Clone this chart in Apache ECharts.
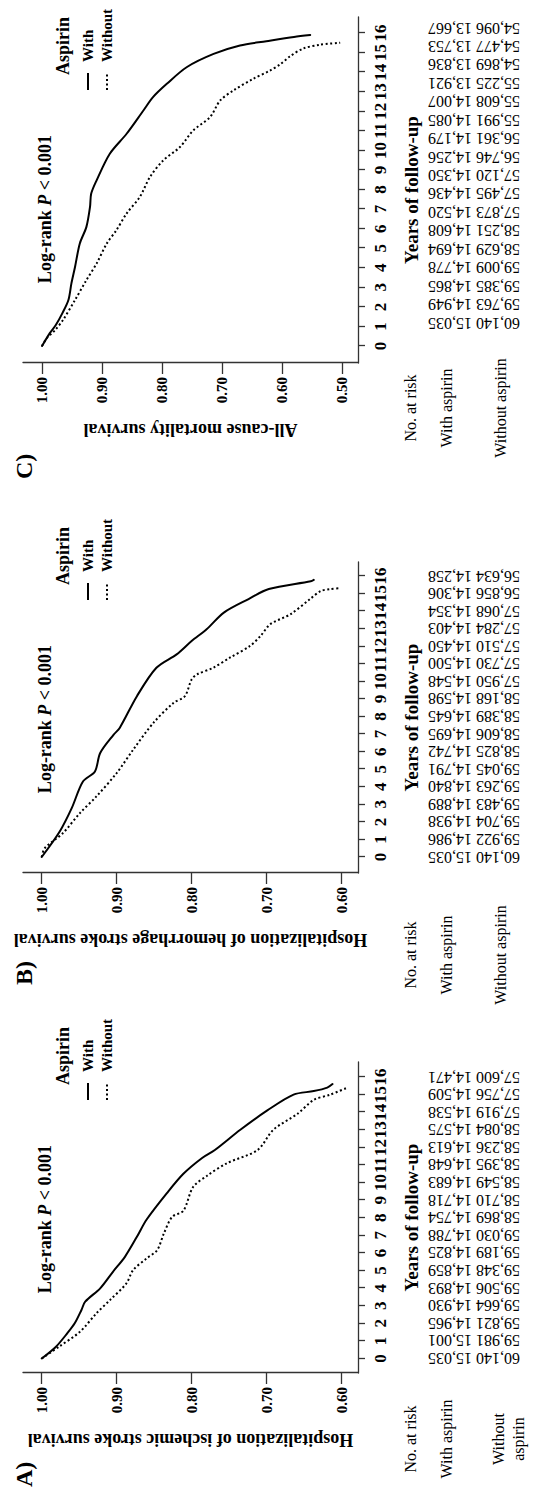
<!DOCTYPE html>
<html>
<head>
<meta charset="utf-8">
<script src="https://cdn.jsdelivr.net/npm/echarts@6/dist/echarts.min.js"></script>
<style>
html,body{margin:0;padding:0;background:#fff;}
#wrap{position:absolute;left:0;top:0;width:537px;height:1493px;overflow:hidden;background:#fff;}
#c{position:absolute;left:0;top:0;width:1493px;height:537px;transform-origin:0 0;transform:translate(0px,1493px) rotate(-90deg);}
</style>
</head>
<body>
<div id="wrap"><div id="c"></div></div>
<script>
// ---------------- data ----------------
const years = [0,1,2,3,4,5,6,7,8,9,10,11,12,13,14,15,16];
const survTicksAB = [0.6,0.7,0.8,0.9,1.0];
const survTicksC = [0.5,0.6,0.7,0.8,0.9,1.0];

// Panel A: ischemic stroke
const aWith = [[0,1.0],[0.67,0.981],[1.43,0.966],[2.0,0.956],[2.76,0.947],[3.23,0.942],[3.99,0.922],[4.93,0.905],[5.78,0.889],[6.92,0.873],[7.9,0.860],[9.4,0.833],[10.5,0.811],[11.4,0.786],[11.85,0.769],[13.0,0.735],[14.1,0.699],[15.0,0.664],[15.2,0.637],[15.4,0.619],[15.6,0.612]];
const aWithout = [[0,1.0],[0.67,0.977],[1.52,0.949],[2.57,0.927],[3.32,0.909],[4.27,0.887],[5.03,0.878],[5.69,0.860],[6.16,0.846],[7.11,0.837],[8.05,0.826],[8.4,0.811],[9.75,0.798],[10.4,0.779],[11.1,0.753],[11.85,0.712],[13.0,0.691],[13.9,0.659],[14.7,0.637],[15.0,0.615],[15.4,0.592]];
const aRiskWith = [15035,15001,14965,14930,14893,14859,14825,14788,14754,14718,14683,14648,14613,14575,14538,14509,14471];
const aRiskWithout = [60140,59981,59821,59664,59506,59348,59189,59030,58869,58710,58549,58395,58236,58084,57919,57756,57600];

// Panel B: hemorrhage stroke
const bWith = [[0,1.0],[1.45,0.976],[2.78,0.960],[4.3,0.945],[4.87,0.929],[5.92,0.922],[6.97,0.904],[7.35,0.896],[9.16,0.873],[10.78,0.847],[11.54,0.820],[12.3,0.800],[12.97,0.780],[13.92,0.757],[14.69,0.724],[15.26,0.697],[15.7,0.641],[15.78,0.637]];
const bWithout = [[0,1.0],[0.5,0.996],[1.35,0.972],[2.5,0.949],[3.45,0.927],[4.78,0.900],[6.11,0.878],[7.64,0.851],[8.78,0.824],[9.16,0.809],[10.11,0.800],[10.4,0.793],[10.78,0.771],[11.35,0.749],[12.02,0.722],[12.59,0.708],[13.26,0.695],[13.83,0.668],[14.69,0.642],[15.14,0.628],[15.26,0.615],[15.3,0.604]];
const bRiskWith = [15035,14986,14938,14889,14840,14791,14742,14695,14645,14598,14548,14500,14450,14403,14354,14306,14258];
const bRiskWithout = [60140,59922,59704,59483,59263,59045,58825,58606,58389,58168,57950,57730,57510,57284,57068,56856,56634];

// Panel C: all-cause mortality
const cWith = [[0,1.0],[0.66,0.987],[1.07,0.977],[1.68,0.966],[2.35,0.956],[3.20,0.951],[4.04,0.945],[5.24,0.937],[6.09,0.926],[7.11,0.920],[7.79,0.918],[8.47,0.909],[9.83,0.887],[10.85,0.859],[12.04,0.831],[12.72,0.815],[13.40,0.792],[14.25,0.759],[14.93,0.714],[15.36,0.670],[15.58,0.626],[15.8,0.58],[15.9,0.553]];
const cWithout = [[0,1.0],[0.4,0.992],[0.82,0.978],[1.33,0.965],[2.35,0.945],[3.37,0.926],[4.22,0.909],[5.24,0.892],[5.92,0.876],[6.77,0.859],[7.62,0.837],[8.64,0.820],[9.49,0.798],[10.17,0.770],[11.02,0.748],[11.70,0.720],[12.55,0.703],[13.06,0.681],[13.66,0.648],[14.08,0.620],[14.4,0.603],[14.8,0.587],[15.2,0.565],[15.4,0.537],[15.5,0.503]];
const cRiskWith = [15035,14949,14865,14778,14694,14608,14520,14436,14350,14256,14179,14085,14007,13921,13836,13753,13667];
const cRiskWithout = [60140,59763,59385,59009,58629,58251,57873,57495,57120,56746,56361,55991,55608,55225,54869,54477,54096];

const yTitles = ['Hospitalization of ischemic stroke survival','Hospitalization of hemorrhage stroke survival','All-cause mortality survival'];
const panelLabels = ['A)','B)','C)'];
const legendNames = ['With','Without'];

// ---------------- layout ----------------
const FONT = '"Liberation Serif","Times New Roman",serif';
const AX = '#333';
const DOT = [2,2.5];
const panels = [
  {left:120, width:311, xMin:-0.824, xMax:16.853, rMin:-0.824, rMax:16.853, yMin:0.578, yMax:1.025, yTicks:survTicksAB,
   w:aWith, wo:aWithout, rw:aRiskWith, rwo:aRiskWithout, lab:6, rowCx:54, twoLine:true},
  {left:620, width:311, xMin:-0.911, xMax:16.80, rMin:-0.911, rMax:16.80, yMin:0.578, yMax:1.025, yTicks:survTicksAB,
   w:bWith, wo:bWithout, rw:bRiskWith, rwo:bRiskWithout, lab:508, rowCx:538, twoLine:false},
  {left:1130, width:346, xMin:-0.869, xMax:16.818, rMin:-2.169, rMax:16.597, yMin:0.4733, yMax:1.0317, yTicks:survTicksC,
   w:cWith, wo:cWithout, rw:cRiskWith, rwo:cRiskWithout, lab:1014, rowCx:1085, twoLine:false}
];
const fmt = n => n.toLocaleString('en-US');

const grid=[], xAxis=[], yAxis=[], series=[], graphic=[];
panels.forEach((p,i)=>{
  grid.push({left:p.left, top:23, width:p.width, height:335, containLabel:false});
  xAxis.push({gridIndex:i, type:'value', min:p.xMin, max:p.xMax, position:'bottom',
    axisLine:{show:true, onZero:false, lineStyle:{color:AX, width:1.3}},
    axisTick:{show:true, inside:false, length:7, customValues:years, lineStyle:{color:AX, width:1.3}},
    axisLabel:{customValues:years, margin:14, fontFamily:FONT, fontWeight:'bold', fontSize:17, color:'#000', formatter:v=>String(Math.round(v))},
    splitLine:{show:false},
    name:'Years of follow-up', nameLocation:'middle', nameGap:44,
    nameTextStyle:{fontFamily:FONT, fontWeight:'bold', fontSize:19, color:'#000'}
  });
  const riskAxis = (arr, off)=>({gridIndex:i, type:'value', min:p.rMin, max:p.rMax, position:'bottom', offset:off,
    axisLine:{show:false}, axisTick:{show:false}, splitLine:{show:false},
    axisLabel:{customValues:years, rotate:90, margin:8, fontFamily:FONT, fontSize:16, color:'#000',
      formatter:v=>fmt(arr[Math.round(v)])}
  });
  xAxis.push(riskAxis(p.rw, 62));
  xAxis.push(riskAxis(p.rwo, 110));
  yAxis.push({gridIndex:i, type:'value', min:p.yMin, max:p.yMax,
    axisLine:{show:true, onZero:false, lineStyle:{color:AX, width:1.3}},
    axisTick:{show:true, length:11, customValues:p.yTicks, lineStyle:{color:AX, width:1.3}},
    axisLabel:{customValues:p.yTicks, margin:14, fontFamily:FONT, fontWeight:'bold', fontSize:15, color:'#000', formatter:v=>v.toFixed(2)},
    splitLine:{show:false},
    name:yTitles[i], nameLocation:'middle', nameRotate:90, nameGap:58,
    nameTextStyle:{fontFamily:FONT, fontWeight:'bold', fontSize:18, color:'#000'}
  });
  series.push({name:legendNames[0], type:'line', xAxisIndex:i*3, yAxisIndex:i, data:p.w, symbol:'none', smooth:0.3,
    lineStyle:{color:'#000', width:2, type:'solid', cap:'round', join:'round'}, itemStyle:{color:'#000'}, animation:false});
  series.push({name:legendNames[1], type:'line', xAxisIndex:i*3, yAxisIndex:i, data:p.wo, symbol:'none', smooth:0.3,
    lineStyle:{color:'#000', width:2, type:DOT}, itemStyle:{color:'#000'}, animation:false});
  // legend (drawn as graphics)
  const lx = p.left+273;
  graphic.push({type:'text', x:p.left+288, y:63, style:{text:'Aspirin', fontFamily:FONT, fontWeight:'bold', fontSize:18, fill:'#000', align:'left', verticalAlign:'middle'}});
  graphic.push({type:'line', shape:{x1:lx, y1:88, x2:lx+17, y2:88}, style:{stroke:'#000', lineWidth:2}});
  graphic.push({type:'line', shape:{x1:lx, y1:107, x2:lx+17, y2:107}, style:{stroke:'#000', lineWidth:2, lineDash:DOT}});
  graphic.push({type:'text', x:lx+28, y:88, style:{text:legendNames[0], fontFamily:FONT, fontWeight:'bold', fontSize:15, fill:'#000', align:'left', verticalAlign:'middle'}});
  graphic.push({type:'text', x:lx+28, y:107, style:{text:legendNames[1], fontFamily:FONT, fontWeight:'bold', fontSize:15, fill:'#000', align:'left', verticalAlign:'middle'}});
  // texts
  graphic.push({type:'text', left:p.lab, top:12, style:{text:panelLabels[i], fontFamily:FONT, fontWeight:'bold', fontSize:24, fill:'#000'}});
  graphic.push({type:'text', x:p.left+154, y:45, style:{text:'{b|Log-rank }{i|P}{b| < 0.001}', align:'center', verticalAlign:'middle',
    rich:{b:{fontFamily:FONT, fontWeight:'bold', fontSize:18, fill:'#000'}, i:{fontFamily:FONT, fontWeight:'bold', fontStyle:'italic', fontSize:18, fill:'#000'}}}});
  graphic.push({type:'text', x:p.rowCx, y:410, style:{text:'No. at risk', fontFamily:FONT, fontSize:16, fill:'#000', align:'center', verticalAlign:'middle'}});
  graphic.push({type:'text', x:p.rowCx, y:446, style:{text:'With aspirin', fontFamily:FONT, fontSize:16, fill:'#000', align:'center', verticalAlign:'middle'}});
  graphic.push({type:'text', x:p.rowCx, y:p.twoLine?508:500, style:{text:p.twoLine?'Without\naspirin':'Without aspirin', lineHeight:20, fontFamily:FONT, fontSize:16, fill:'#000', align:'center', verticalAlign:'middle'}});
});

const chart = echarts.init(document.getElementById('c'), null, {renderer:'svg', width:1493, height:537});
chart.setOption({backgroundColor:'#fff', animation:false, grid, xAxis, yAxis, series, graphic});
</script>
</body>
</html>
